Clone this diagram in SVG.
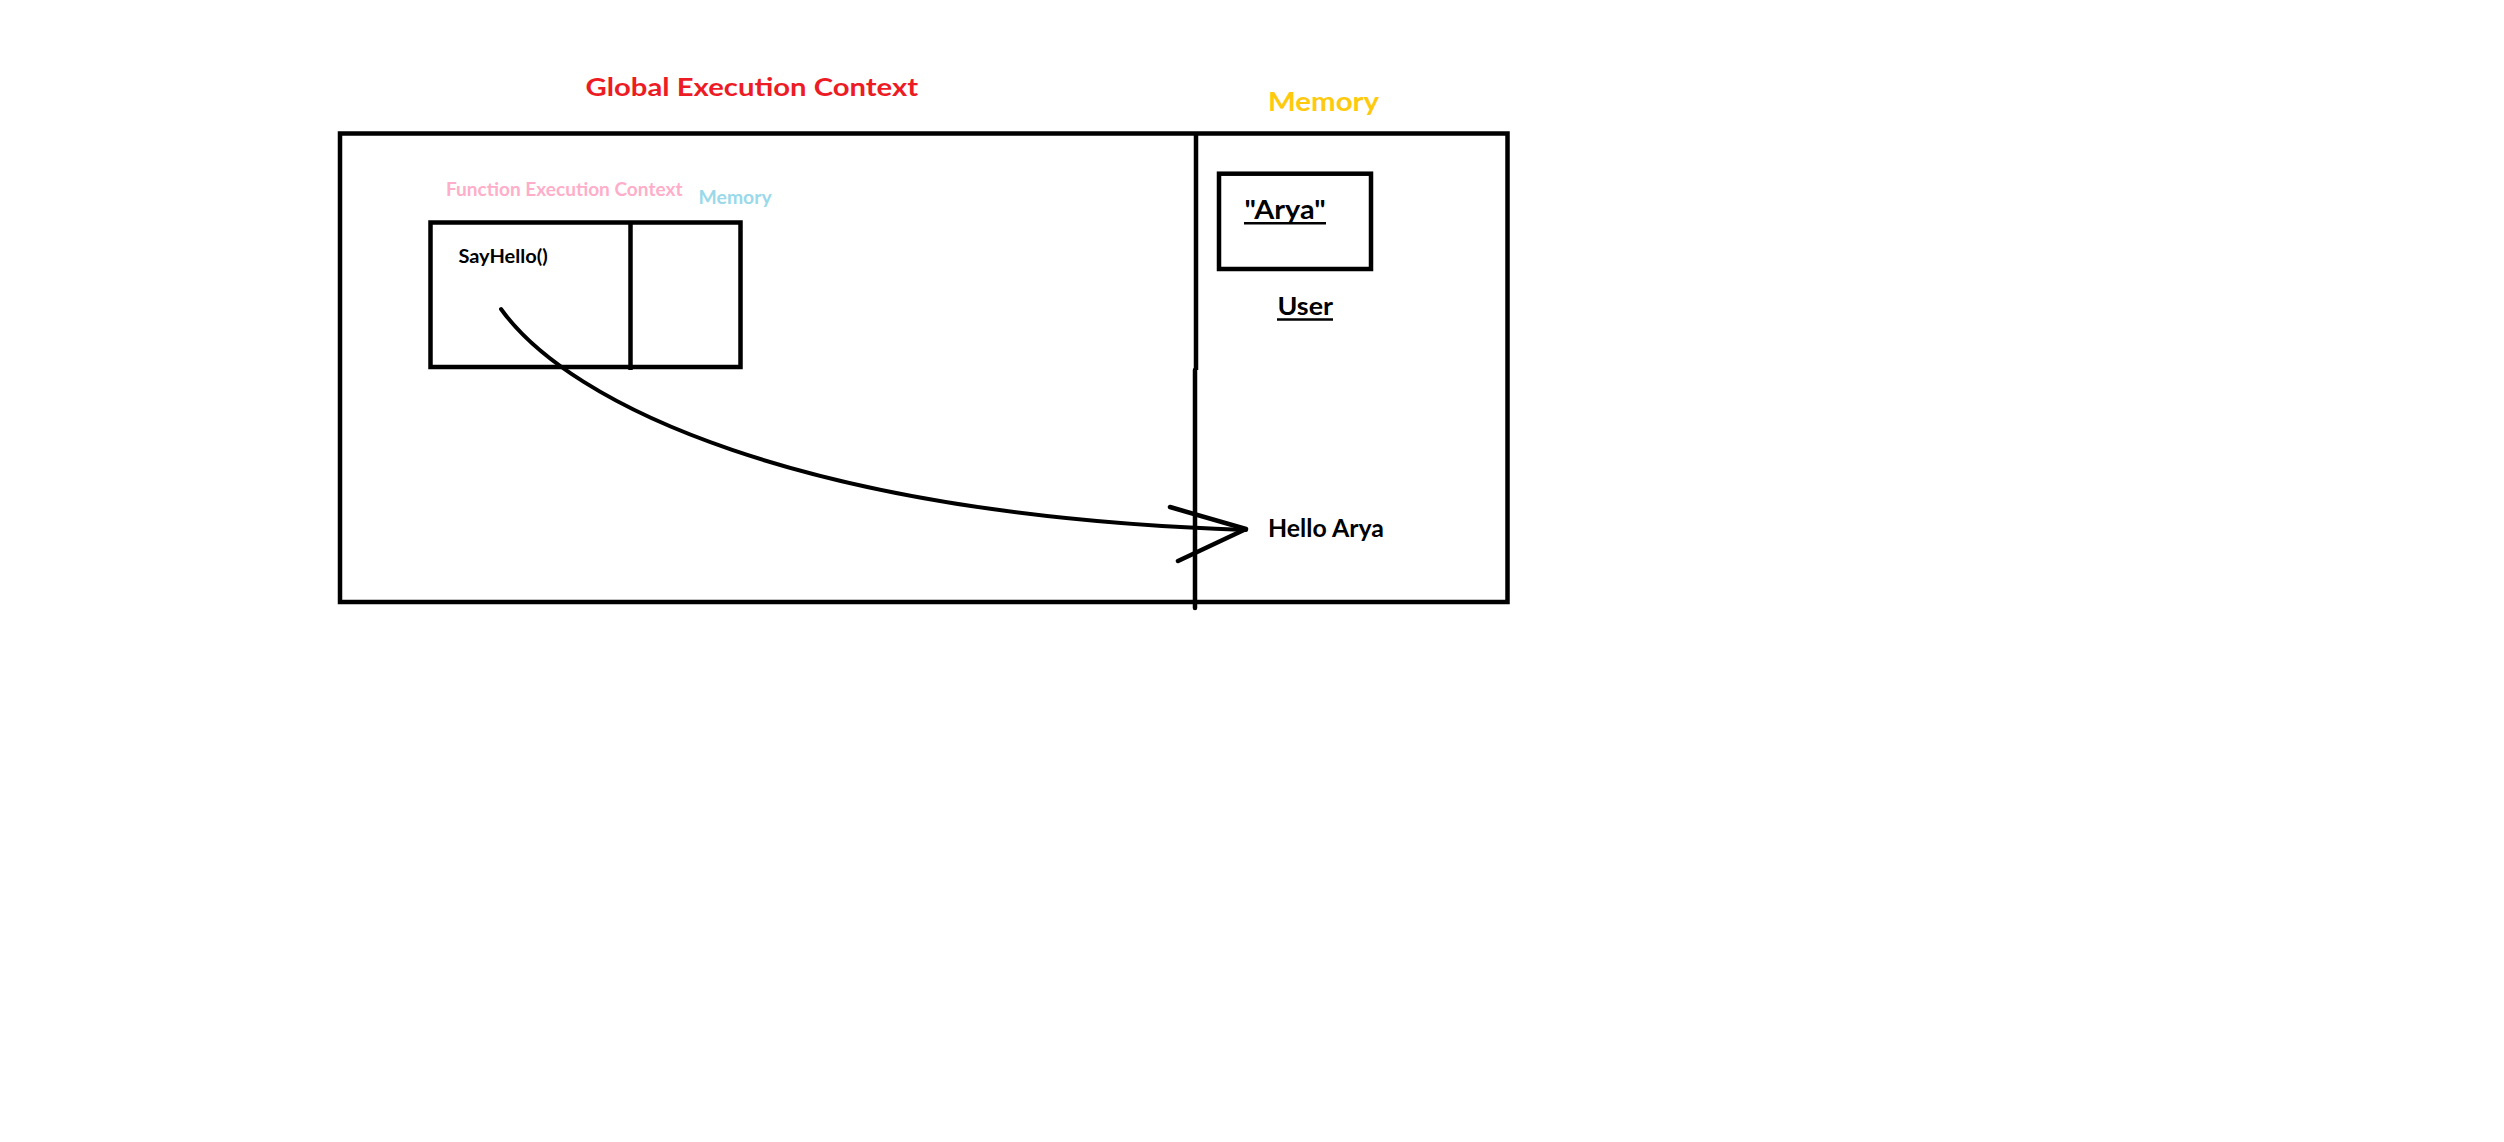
<svg xmlns="http://www.w3.org/2000/svg" width="2504" height="1142" viewBox="0 0 2504 1142">
<style>
  .box { fill: none; stroke: #000; stroke-width: 4.5; }
  .ln { fill: none; stroke: #000; stroke-width: 4.5; stroke-linecap: round; stroke-linejoin: round; }
  .t { font-family: Lato, "Liberation Sans", sans-serif; font-weight: bold; }
  .ul { stroke: #000; stroke-width: 2.5; }
</style>
<rect width="2504" height="1142" fill="#fff"/>
<g id="global-context">
  <rect class="box" x="340" y="133.5" width="1167.5" height="468.5"/>
  <line class="ln" x1="1196" y1="133.5" x2="1196" y2="370" style="stroke-linecap:butt"/>
  <line class="ln" x1="1195" y1="370" x2="1195" y2="608"/>
  <text class="t" x="585.6" y="96" font-size="25.5" fill="#ED1C24" textLength="332.6" lengthAdjust="spacingAndGlyphs">Global Execution Context</text>
</g>
<g id="global-memory">
  <text class="t" x="1268" y="111" font-size="26.8" fill="#FFC90E" textLength="111" lengthAdjust="spacingAndGlyphs">Memory</text>
</g>
<g id="user-box">
  <rect class="box" x="1219" y="173.7" width="152" height="95.3"/>
  <text class="t" x="1244.6" y="219" font-size="26" fill="#000" textLength="81" lengthAdjust="spacingAndGlyphs">"Arya"</text>
  <line class="ul" x1="1244" y1="223.3" x2="1326" y2="223.3"/>
  <text class="t" x="1277.5" y="315" font-size="25.5" fill="#000" textLength="55.5" lengthAdjust="spacingAndGlyphs">User</text>
  <line class="ul" x1="1277" y1="319.5" x2="1333" y2="319.5"/>
</g>
<g id="function-context">
  <rect class="box" x="430.5" y="222.5" width="310" height="144.5"/>
  <line class="ln" x1="630.5" y1="222.5" x2="630.5" y2="370" style="stroke-linecap:butt"/>
  <text class="t" x="446" y="196" font-size="18.5" fill="#FFAEC9" textLength="236.5" lengthAdjust="spacingAndGlyphs">Function Execution Context</text>
  <text class="t" x="698.6" y="204.3" font-size="18.5" fill="#99D9EA" textLength="73" lengthAdjust="spacingAndGlyphs">Memory</text>
  <text class="t" x="458.4" y="263.3" font-size="18.5" fill="#000" textLength="89.3" lengthAdjust="spacingAndGlyphs">SayHello()</text>
</g>
<g id="output">
  <text class="t" x="1268" y="537.3" font-size="24" fill="#000" textLength="116" lengthAdjust="spacingAndGlyphs">Hello Arya</text>
</g>
<g id="connectors">
  <path class="ln" d="M501,309 C570,405 800,515 1246,530" style="stroke-width:4"/>
  <path class="ln" d="M1170,507 L1246,529 L1178,561"/>
</g>
</svg>
